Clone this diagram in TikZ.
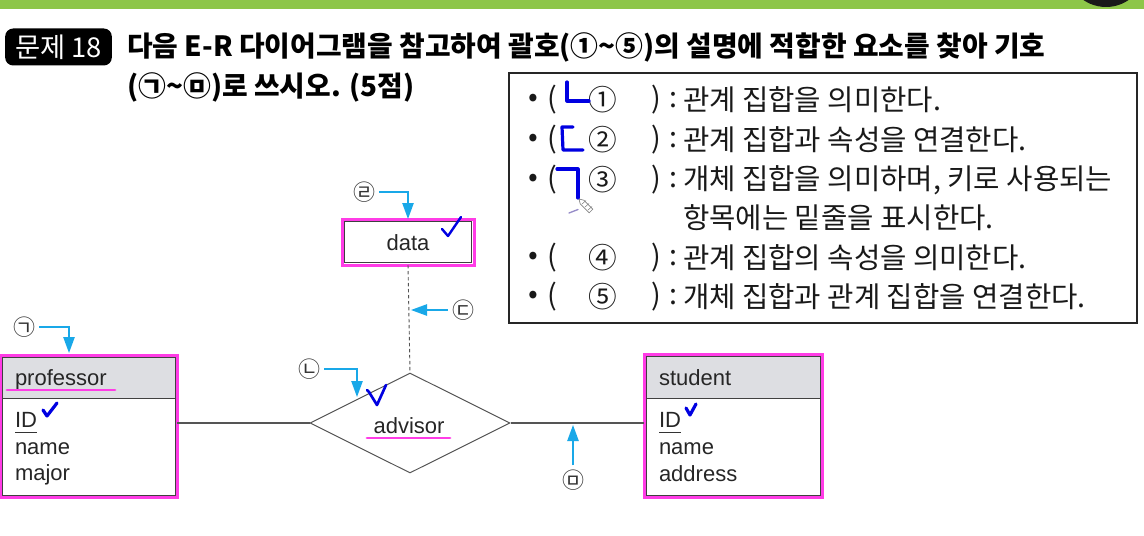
\documentclass[tikz,border=0pt]{standalone}
\usepackage{fontspec}
\setmainfont{Liberation Sans}
\newfontfamily\kr{Noto Sans CJK KR}
\usetikzlibrary{shapes.geometric,arrows.meta}
\definecolor{mag}{RGB}{255,60,230}
\definecolor{cy}{RGB}{25,168,232}
\definecolor{hdr}{RGB}{221,222,226}
\definecolor{pen}{RGB}{0,0,225}
\definecolor{grn}{RGB}{141,198,72}
\definecolor{ln}{RGB}{85,85,85}
\definecolor{pencil}{RGB}{150,140,200}
\newcommand{\tld}{{\char"007E}}
\tikzset{
  kt/.style={font=\kr\fontsize{21.5}{26}\selectfont, inner sep=0, outer sep=0, text=black!90},
  attr/.style={font=\fontsize{16.5}{20}\selectfont, text=black!85, inner sep=0, outer sep=0},
  hl/.style={draw=mag, line width=2.25pt, outer sep=0, inner sep=0},
  cyarrow/.style={draw=cy, line width=1.1pt, -{Triangle[width=8.5pt,length=12pt]}},
  penstroke/.style={draw=pen, line width=2.4pt, line cap=round, line join=round},
  lab/.style={font=\kr\fontsize{16.5}{16}\selectfont, inner sep=0, text=black!80},
  conn/.style={draw=ln, line width=0.8pt},
  ttl/.style={anchor=west, font=\kr\bfseries\fontsize{20.9}{24}\selectfont, inner sep=0},
}
\begin{document}
\begin{tikzpicture}[x=0.75pt,y=-0.75pt]
\useasboundingbox (0,0) rectangle (1144,535);
\clip (0,0) rectangle (1144,535);
% top bar
\fill[grn] (0,0) rectangle (1144,9.5);
\fill[black!90] (1106,-33) circle[radius=40];
% title
\node[fill=black, rounded corners=6pt, minimum width=80pt, minimum height=27.75pt, text=white,
      font=\kr\fontsize{20.5}{20}\selectfont, inner sep=0] (qno) at (58.5,47) {문제 18};
\node[ttl] (t1) at (127,47)
  {다음 E-R 다이어그램을 참고하여 괄호(①\tld⑤)의 설명에 적합한 요소를 찾아 기호};
\node[ttl] (t2) at (127,87)
  {(㉠\tld㉤)로 쓰시오. (5점)};
% question box
\node[draw=black!85, line width=1.3pt, minimum width=471pt, minimum height=187.5pt, inner sep=0] (qbox) at (823,198) {};
\foreach \r/\y/\n/\t in {1/100/①/관계 집합을 의미한다.,
                         2/140/②/관계 집합과 속성을 연결한다.,
                         3/180/③/{개체 집합을 의미하며, 키로 사용되는},
                         4/258/④/관계 집합의 속성을 의미한다.,
                         5/297/⑤/개체 집합과 관계 집합을 연결한다.}{
  \node[kt] (b\r) at (533,\y) {•};
  \node[kt] (lp\r) at (552,\y) {(};
  \node[kt] (n\r) at (603,\y) {\n};
  \node[kt] (rp\r) at (656,\y) {)};
  \node[kt] (c\r) at (673,\y) {:};
  \node[kt, anchor=west] (d\r) at (683,\y) {\t};
}
\node[kt, anchor=west] (d3b) at (683,218) {항목에는 밑줄을 표시한다.};
% handwriting in the box
\draw[penstroke] (567,82) -- (567,101) -- (589,101);
\draw[penstroke] (573,127) -- (562,127) -- (563,150) -- (583,150);
\draw[penstroke] (557,169) -- (578,169) -- (578,198);
\draw[gray, fill=white, line width=0.5pt] (579,199) -- (583.8,200.2) -- (592.8,209.2) -- (589.2,212.8) -- (580.2,203.8) -- cycle;
\draw[gray, line width=0.4pt] (582,204) -- (586,200.5) (585,207) -- (589,203.5) (588,210) -- (592,206.5);
\draw[pencil, line width=1pt, line cap=round] (569,213) -- (578,209.5);
% professor entity
\fill[hdr] (2,357) rectangle (175,398);
\draw[black!75, line width=0.75pt] (2,357) rectangle (175,495) (2,398) -- (175,398);
\node[hl, minimum width=132.75pt, minimum height=106.5pt] (prof) at (88.5,426) {};
\node[attr, anchor=base west] (pname) at (15,385) {professor};
\node[attr, anchor=base west] (pid) at (15,427) {ID};
\node[attr, anchor=base west] (pnm) at (15,454) {name};
\node[attr, anchor=base west] (pmj) at (15,480) {major};
\draw[mag, line width=2.2pt, line cap=round] (7,390) -- (115,390);
\draw[black!80, line width=0.7pt] ([yshift=-4pt]pid.base west) -- ([yshift=-4pt]pid.base east);
\draw[penstroke] (43,410) -- (47,416) -- (57,403);
% student entity
\fill[hdr] (646,356) rectangle (820,398);
\draw[black!75, line width=0.75pt] (646,356) rectangle (820,495) (646,398) -- (820,398);
\node[hl, minimum width=133.5pt, minimum height=107.25pt] (stu) at (733,425.5) {};
\node[attr, anchor=base west] (sname) at (659,385) {student};
\node[attr, anchor=base west] (sid) at (659,427) {ID};
\node[attr, anchor=base west] (snm) at (659,454) {name};
\node[attr, anchor=base west] (sad) at (659,481) {address};
\draw[black!80, line width=0.7pt] ([yshift=-4pt]sid.base west) -- ([yshift=-4pt]sid.base east);
\draw[penstroke] (686,408) -- (690,415) -- (696,404);
% relationship
\node[diamond, draw=ln, line width=0.75pt, minimum width=150pt, minimum height=75pt, inner sep=0] (rel) at (410,423) {};
\node[attr, anchor=base] (advt) at (409,433) {advisor};
\draw[mag, line width=2.2pt, line cap=round] (367,438) -- (450,438);
\draw[penstroke, line width=2pt] (367,390) -- (369,392) -- (377,405) -- (386,385);
% data attribute
\node[hl, minimum width=99pt, minimum height=34.5pt] (data) at (408,242) {};
\draw[black!75, line width=0.6pt] ([shift={(1.8pt,-1.8pt)}]data.north west) rectangle ([shift={(-1.8pt,1.8pt)}]data.south east);
\node[attr] (dtext) at (408,243) {data};
\draw[penstroke, line width=1.8pt] (442,229) -- (448,236) -- (461,217);
% connectors
\draw[conn] (rel.west -| prof.east) -- (rel.west);
\draw[conn] (rel.east) -- (rel.east -| stu.west);
\draw[ln, line width=0.7pt, dash pattern=on 2.5pt off 2pt] (data.south) -- (rel.north);
% labels
\node[lab] (la) at (24,327) {㉠};
\node[lab] (lb) at (309,369) {㉡};
\node[lab] (lc) at (463,310) {㉢};
\node[lab] (ld) at (364,192) {㉣};
\node[lab] (le) at (573,480) {㉤};
\coordinate (pa) at (69,353);
\coordinate (pb) at (357,397);
\coordinate (pc) at (411,310);
\coordinate (pe) at (573,425);
\draw[cyarrow, shorten <=3pt] (la.east) -| (pa);
\draw[cyarrow, shorten <=3pt] (lb.east) -| (pb);
\draw[cyarrow, shorten <=3pt] (ld.east) -| (data.north);
\draw[cyarrow, shorten <=3pt] (lc.west) -- (pc);
\draw[cyarrow, shorten <=3pt] (le.north) -- (pe);
\end{tikzpicture}
\end{document}
